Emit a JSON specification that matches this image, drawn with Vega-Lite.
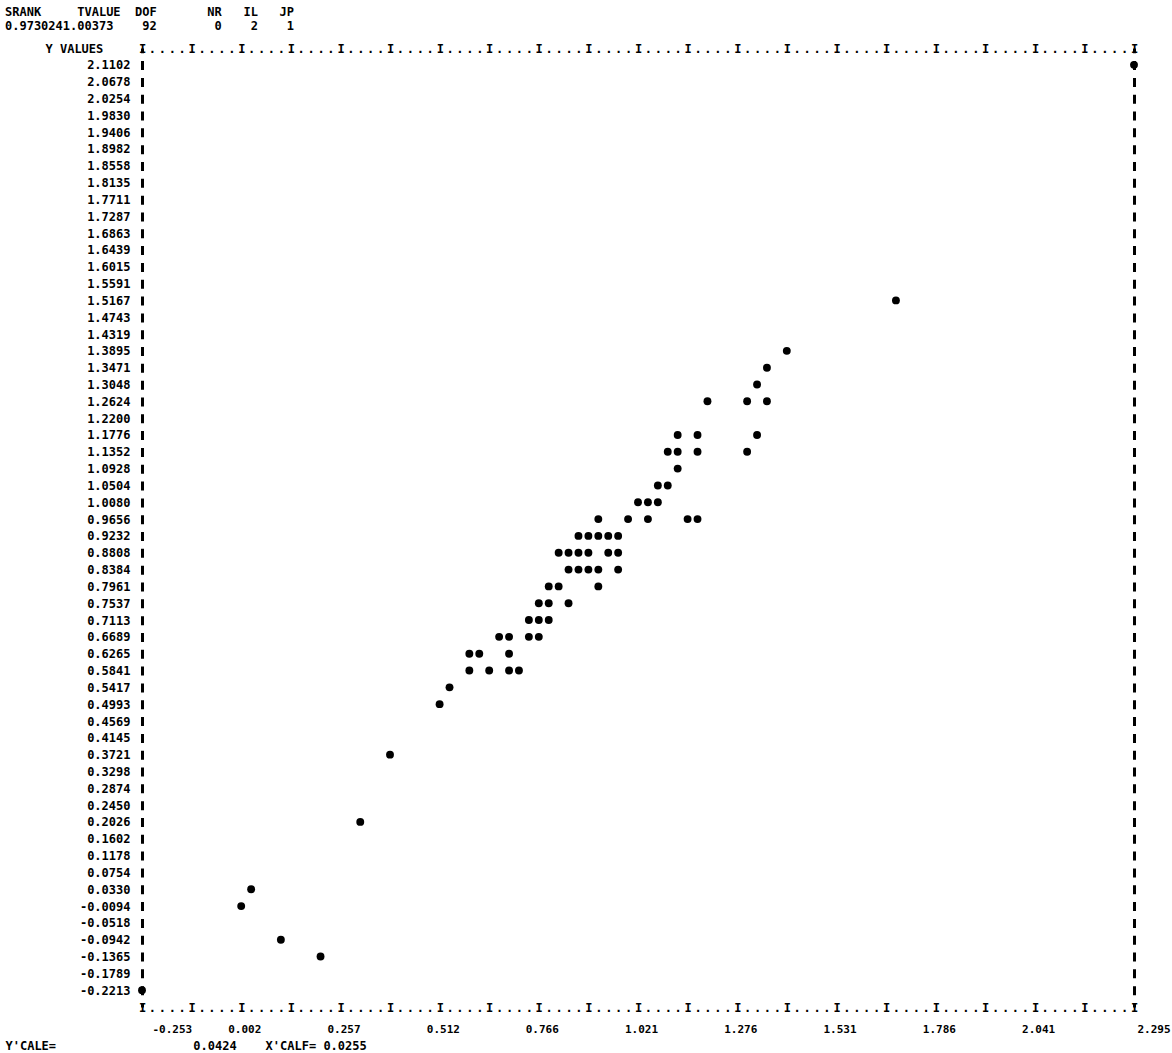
{
  "$schema": "https://vega.github.io/schema/vega-lite/v6.json",
  "autosize": "none",
  "width": 992,
  "height": 959,
  "padding": {"left": 142, "top": 48, "right": 38, "bottom": 46},
  "background": "white",
  "config": {"view": {"stroke": null}},
  "title": {
    "text": ["SRANK\u00a0\u00a0\u00a0\u00a0\u00a0TVALUE\u00a0\u00a0DOF\u00a0\u00a0\u00a0\u00a0\u00a0\u00a0\u00a0NR\u00a0\u00a0\u00a0IL\u00a0\u00a0\u00a0JP", "0.9730241.00373\u00a0\u00a0\u00a0\u00a092\u00a0\u00a0\u00a0\u00a0\u00a0\u00a0\u00a0\u00a00\u00a0\u00a0\u00a0\u00a02\u00a0\u00a0\u00a0\u00a01"],
    "anchor": "start",
    "frame": "group",
    "dx": -137,
    "dy": -5,
    "font": "DejaVu Sans Mono",
    "fontSize": 12,
    "fontWeight": "bold",
    "lineHeight": 14,
    "color": "black",
    "offset": 4
  },
  "data": {
    "values": [
      {"x": 2.295, "y": 2.1102},
      {"x": 1.6835, "y": 1.5167},
      {"x": 1.4032, "y": 1.3895},
      {"x": 1.3522, "y": 1.3471},
      {"x": 1.3268, "y": 1.3048},
      {"x": 1.1994, "y": 1.2624},
      {"x": 1.3013, "y": 1.2624},
      {"x": 1.3522, "y": 1.2624},
      {"x": 1.1229, "y": 1.1776},
      {"x": 1.1739, "y": 1.1776},
      {"x": 1.3268, "y": 1.1776},
      {"x": 1.0974, "y": 1.1352},
      {"x": 1.1229, "y": 1.1352},
      {"x": 1.1739, "y": 1.1352},
      {"x": 1.3013, "y": 1.1352},
      {"x": 1.1229, "y": 1.0928},
      {"x": 1.0720, "y": 1.0504},
      {"x": 1.0974, "y": 1.0504},
      {"x": 1.0210, "y": 1.0080},
      {"x": 1.0465, "y": 1.0080},
      {"x": 1.0720, "y": 1.0080},
      {"x": 0.9191, "y": 0.9656},
      {"x": 0.9955, "y": 0.9656},
      {"x": 1.0465, "y": 0.9656},
      {"x": 1.1484, "y": 0.9656},
      {"x": 1.1739, "y": 0.9656},
      {"x": 0.8681, "y": 0.9232},
      {"x": 0.8936, "y": 0.9232},
      {"x": 0.9191, "y": 0.9232},
      {"x": 0.9446, "y": 0.9232},
      {"x": 0.9700, "y": 0.9232},
      {"x": 0.8172, "y": 0.8808},
      {"x": 0.8426, "y": 0.8808},
      {"x": 0.8681, "y": 0.8808},
      {"x": 0.8936, "y": 0.8808},
      {"x": 0.9446, "y": 0.8808},
      {"x": 0.9700, "y": 0.8808},
      {"x": 0.8426, "y": 0.8384},
      {"x": 0.8681, "y": 0.8384},
      {"x": 0.8936, "y": 0.8384},
      {"x": 0.9191, "y": 0.8384},
      {"x": 0.9700, "y": 0.8384},
      {"x": 0.7917, "y": 0.7961},
      {"x": 0.8172, "y": 0.7961},
      {"x": 0.9191, "y": 0.7961},
      {"x": 0.7662, "y": 0.7537},
      {"x": 0.7917, "y": 0.7537},
      {"x": 0.8426, "y": 0.7537},
      {"x": 0.7407, "y": 0.7113},
      {"x": 0.7662, "y": 0.7113},
      {"x": 0.7917, "y": 0.7113},
      {"x": 0.6643, "y": 0.6689},
      {"x": 0.6898, "y": 0.6689},
      {"x": 0.7407, "y": 0.6689},
      {"x": 0.7662, "y": 0.6689},
      {"x": 0.5878, "y": 0.6265},
      {"x": 0.6133, "y": 0.6265},
      {"x": 0.6898, "y": 0.6265},
      {"x": 0.5878, "y": 0.5841},
      {"x": 0.6388, "y": 0.5841},
      {"x": 0.6898, "y": 0.5841},
      {"x": 0.7152, "y": 0.5841},
      {"x": 0.5369, "y": 0.5417},
      {"x": 0.5114, "y": 0.4993},
      {"x": 0.3840, "y": 0.3721},
      {"x": 0.3076, "y": 0.2026},
      {"x": 0.0273, "y": 0.0330},
      {"x": 0.0018, "y": -0.0094},
      {"x": 0.1037, "y": -0.0942},
      {"x": 0.2056, "y": -0.1365},
      {"x": -0.253, "y": -0.2213}
    ]
  },
  "resolve": {"axis": {"x": "independent", "y": "independent"}},
  "layer": [
    {
      "mark": {"type": "circle", "size": 62, "color": "black", "opacity": 1},
      "encoding": {
        "x": {
          "field": "x", "type": "quantitative",
          "scale": {"domain": [-0.253, 2.295], "nice": false, "zero": false},
          "axis": {
            "orient": "bottom",
            "values": [-0.253, -0.2275, -0.2020, -0.1766, -0.1511, -0.1256, -0.1001, -0.0746, -0.0492, -0.0237, 0.002, 0.0273, 0.0528, 0.0782, 0.1037, 0.1292, 0.1547, 0.1802, 0.2056, 0.2311, 0.257, 0.2821, 0.3076, 0.3330, 0.3585, 0.3840, 0.4095, 0.4350, 0.4604, 0.4859, 0.512, 0.5369, 0.5624, 0.5878, 0.6133, 0.6388, 0.6643, 0.6898, 0.7152, 0.7407, 0.766, 0.7917, 0.8172, 0.8426, 0.8681, 0.8936, 0.9191, 0.9446, 0.9700, 0.9955, 1.021, 1.0465, 1.0720, 1.0974, 1.1229, 1.1484, 1.1739, 1.1994, 1.2248, 1.2503, 1.276, 1.3013, 1.3268, 1.3522, 1.3777, 1.4032, 1.4287, 1.4542, 1.4796, 1.5051, 1.531, 1.5561, 1.5816, 1.6070, 1.6325, 1.6580, 1.6835, 1.7090, 1.7344, 1.7599, 1.786, 1.8109, 1.8364, 1.8618, 1.8873, 1.9128, 1.9383, 1.9638, 1.9892, 2.0147, 2.041, 2.0657, 2.0912, 2.1166, 2.1421, 2.1676, 2.1931, 2.2186, 2.2440, 2.2695, 2.295],
            "labelExpr": "round((datum.value+0.253)/0.02548) % 5 == 0 ? 'I' : '.'",
            "domain": false, "ticks": false, "tickSize": 0, "grid": false,
            "labelOverlap": false, "labelFlush": false, "labelBound": false,
            "labelAlign": "center", "labelBaseline": "middle", "labelPadding": 0,
            "labelFont": "DejaVu Sans Mono", "labelFontWeight": "bold", "labelFontSize": 12, "labelColor": "black",
            "title": "Y'CALE=\u00a0\u00a0\u00a0\u00a0\u00a0\u00a0\u00a0\u00a0\u00a0\u00a0\u00a0\u00a0\u00a0\u00a0\u00a0\u00a0\u00a0\u00a0\u00a00.0424\u00a0\u00a0\u00a0\u00a0X'CALF=\u00a00.0255",
            "titleX": -137, "titleY": 38, "titleAlign": "left", "titleBaseline": "middle", "titleAnchor": "start",
            "titleFont": "DejaVu Sans Mono", "titleFontWeight": "bold", "titleFontSize": 12, "titleColor": "black"
          }
        },
        "y": {
          "field": "y", "type": "quantitative",
          "scale": {"domain": [-0.263691, 2.152591], "nice": false, "zero": false},
          "axis": {
            "orient": "left",
            "values": [2.1102, 2.0678, 2.0254, 1.9830, 1.9406, 1.8982, 1.8558, 1.8135, 1.7711, 1.7287, 1.6863, 1.6439, 1.6015, 1.5591, 1.5167, 1.4743, 1.4319, 1.3895, 1.3471, 1.3048, 1.2624, 1.2200, 1.1776, 1.1352, 1.0928, 1.0504, 1.0080, 0.9656, 0.9232, 0.8808, 0.8384, 0.7961, 0.7537, 0.7113, 0.6689, 0.6265, 0.5841, 0.5417, 0.4993, 0.4569, 0.4145, 0.3721, 0.3298, 0.2874, 0.2450, 0.2026, 0.1602, 0.1178, 0.0754, 0.0330, -0.0094, -0.0518, -0.0942, -0.1365, -0.1789, -0.2213],
            "labelExpr": "replace(format(datum.value, '.4f'), '\u2212', '-')",
            "ticks": false, "tickSize": 0, "grid": false,
            "domain": true, "domainColor": "black", "domainWidth": 3, "domainDash": [9, 7.82], "domainDashOffset": 4.5,
            "labelOverlap": false, "labelFlush": false, "labelBound": false,
            "labelAlign": "right", "labelBaseline": "middle", "labelPadding": 12,
            "labelFont": "DejaVu Sans Mono", "labelFontWeight": "bold", "labelFontSize": 12, "labelColor": "black",
            "title": "Y VALUES", "titleAngle": 0, "titleX": -97, "titleY": 0, "titleAlign": "left", "titleBaseline": "middle",
            "titleFont": "DejaVu Sans Mono", "titleFontWeight": "bold", "titleFontSize": 12, "titleColor": "black"
          }
        }
      }
    },
    {
      "mark": {"type": "circle", "size": 62, "color": "black", "opacity": 0},
      "encoding": {
        "x": {
          "field": "x", "type": "quantitative",
          "scale": {"domain": [-0.253, 2.295], "nice": false, "zero": false},
          "axis": {
            "orient": "top",
            "values": [-0.253, -0.2275, -0.2020, -0.1766, -0.1511, -0.1256, -0.1001, -0.0746, -0.0492, -0.0237, 0.002, 0.0273, 0.0528, 0.0782, 0.1037, 0.1292, 0.1547, 0.1802, 0.2056, 0.2311, 0.257, 0.2821, 0.3076, 0.3330, 0.3585, 0.3840, 0.4095, 0.4350, 0.4604, 0.4859, 0.512, 0.5369, 0.5624, 0.5878, 0.6133, 0.6388, 0.6643, 0.6898, 0.7152, 0.7407, 0.766, 0.7917, 0.8172, 0.8426, 0.8681, 0.8936, 0.9191, 0.9446, 0.9700, 0.9955, 1.021, 1.0465, 1.0720, 1.0974, 1.1229, 1.1484, 1.1739, 1.1994, 1.2248, 1.2503, 1.276, 1.3013, 1.3268, 1.3522, 1.3777, 1.4032, 1.4287, 1.4542, 1.4796, 1.5051, 1.531, 1.5561, 1.5816, 1.6070, 1.6325, 1.6580, 1.6835, 1.7090, 1.7344, 1.7599, 1.786, 1.8109, 1.8364, 1.8618, 1.8873, 1.9128, 1.9383, 1.9638, 1.9892, 2.0147, 2.041, 2.0657, 2.0912, 2.1166, 2.1421, 2.1676, 2.1931, 2.2186, 2.2440, 2.2695, 2.295],
            "labelExpr": "round((datum.value+0.253)/0.02548) % 5 == 0 ? 'I' : '.'",
            "domain": false, "ticks": false, "tickSize": 0, "grid": false,
            "labelOverlap": false, "labelFlush": false, "labelBound": false,
            "labelAlign": "center", "labelBaseline": "middle", "labelPadding": 0,
            "labelFont": "DejaVu Sans Mono", "labelFontWeight": "bold", "labelFontSize": 12, "labelColor": "black",
            "title": null
          }
        },
        "y": {
          "field": "y", "type": "quantitative",
          "scale": {"domain": [-0.263691, 2.152591], "nice": false, "zero": false},
          "axis": {
            "orient": "right",
            "labels": false, "ticks": false, "tickSize": 0, "grid": false,
            "domain": true, "domainColor": "black", "domainWidth": 3, "domainDash": [9, 7.82], "domainDashOffset": 4.5,
            "title": null
          }
        }
      }
    },
    {
      "mark": {"type": "circle", "size": 62, "color": "black", "opacity": 0},
      "encoding": {
        "x": {
          "field": "x", "type": "quantitative",
          "scale": {"domain": [-0.253, 2.295], "nice": false, "zero": false},
          "axis": {
            "orient": "bottom",
            "values": [-0.253, 0.002, 0.257, 0.512, 0.766, 1.021, 1.276, 1.531, 1.786, 2.041, 2.295],
            "labelExpr": "replace(format(datum.value, '.3f'), '\u2212', '-')",
            "domain": false, "ticks": false, "tickSize": 0, "grid": false,
            "labelOverlap": false, "labelFlush": false, "labelBound": false,
            "labelAlign": {"condition": {"test": "datum.value < -0.2 || datum.value > 2.2", "value": "left"}, "value": "center"},
            "labelOffset": {"condition": {"test": "datum.value < -0.2", "value": 10}, "value": 3},
            "labelBaseline": "top", "labelPadding": 16,
            "labelFont": "DejaVu Sans Mono", "labelFontWeight": "bold", "labelFontSize": 11, "labelColor": "black",
            "title": null
          }
        },
        "y": {
          "field": "y", "type": "quantitative",
          "scale": {"domain": [-0.263691, 2.152591], "nice": false, "zero": false},
          "axis": null
        }
      }
    }
  ]
}
